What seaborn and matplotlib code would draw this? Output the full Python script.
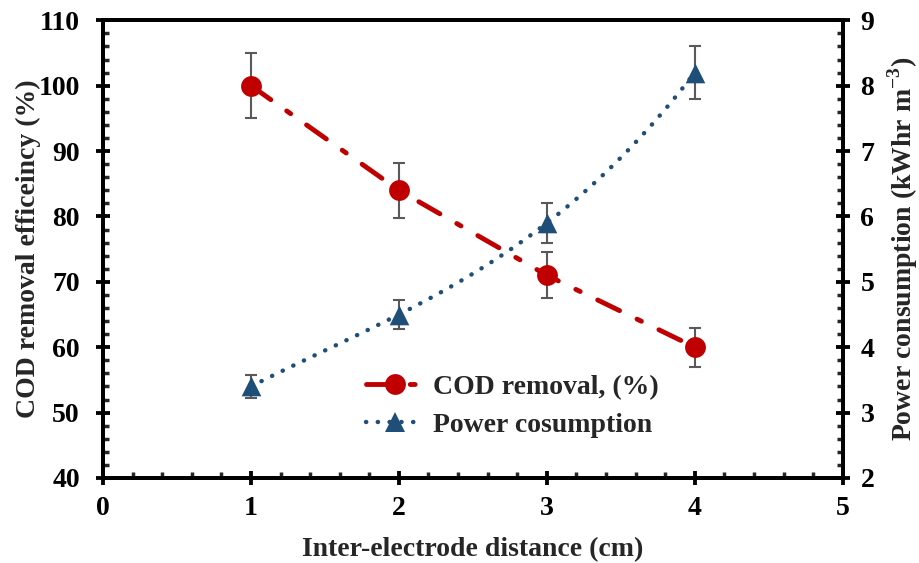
import matplotlib
matplotlib.use('Agg')
import matplotlib.pyplot as plt
from matplotlib.lines import Line2D
from matplotlib.ticker import MultipleLocator
import numpy as np
import pandas as pd
import seaborn as sns

# data
distance = [1, 2, 3, 4]
cod_removal = [100, 84, 71, 60]
cod_err = [5.0, 4.2, 3.5, 3.0]
power = [3.4, 4.5, 5.9, 8.2]
power_err = [0.17, 0.22, 0.3, 0.4]

sns.set_style('ticks')
plt.rcParams['font.family'] = ['Liberation Serif', 'DejaVu Serif']
plt.rcParams['font.weight'] = 'bold'
plt.rcParams['mathtext.fontset'] = 'custom'
plt.rcParams['mathtext.rm'] = 'Liberation Serif:bold'
plt.rcParams['mathtext.bf'] = 'Liberation Serif:bold'

red = '#C00000'
blue = '#1F4E79'
grey = '#595959'
fs = 20

df = pd.DataFrame({'d': distance, 'cod': cod_removal, 'power': power})

fig = plt.figure(figsize=(9.2, 5.63), dpi=100)
ax = fig.add_axes([0.112, 0.151, 0.804, 0.813])
ax2 = ax.twinx()

# COD removal (left axis)
ax.errorbar(distance, cod_removal, yerr=cod_err, fmt='none', ecolor=grey,
            elinewidth=1.5, capsize=4.3, capthick=1.5, zorder=2)
sns.lineplot(data=df, x='d', y='cod', ax=ax, color=red, lw=3.5,
             marker='o', markersize=15, markeredgewidth=0, zorder=3)
ax.lines[-1].set_dashes((5, 4, 1, 4))
ax.lines[-1].set_dash_capstyle('round')

# power consumption (right axis), smooth curve through the points
ax2.errorbar(distance, power, yerr=power_err, fmt='none', ecolor=grey,
             elinewidth=1.5, capsize=4.3, capthick=1.5, zorder=2)
sns.regplot(data=df, x='d', y='power', ax=ax2, order=3, ci=None, marker='^',
            scatter_kws=dict(s=200, color=blue, linewidths=0, alpha=1, zorder=3),
            line_kws=dict(color=blue, lw=3.2, dashes=(0.05, 2.6), dash_capstyle='round', zorder=3))

ax.set_xlim(0, 5)
ax.set_ylim(40, 110)
ax2.set_ylim(2, 9)
ax.xaxis.set_major_locator(MultipleLocator(1))
ax.xaxis.set_minor_locator(MultipleLocator(0.2))
ax.yaxis.set_major_locator(MultipleLocator(10))
ax.yaxis.set_minor_locator(MultipleLocator(2))
ax2.yaxis.set_major_locator(MultipleLocator(1))
ax2.yaxis.set_minor_locator(MultipleLocator(0.2))

for a in (ax, ax2):
    for s in a.spines.values():
        s.set_linewidth(2.75)
        s.set_color('black')
    a.tick_params(which='major', direction='inout', length=9.5, width=2.75,
                  labelsize=fs, colors='black', pad=8)
    a.tick_params(which='minor', direction='in', length=4.5, width=2.5)
ax.tick_params(axis='y', which='major', pad=12)
ax2.tick_params(axis='y', which='major', pad=8)
ax.tick_params(axis='x', which='both', top=False)
ax2.tick_params(axis='x', which='both', top=False, bottom=False)

ax.set_xlabel('Inter-electrode distance (cm)', fontsize=fs, fontweight='bold', labelpad=12)
ax.set_ylabel('COD removal efficeincy (%)', fontsize=fs, fontweight='bold', labelpad=-2)
ax2.set_xlabel('')
ax2.set_ylabel('Power consumption (kWhr m$^{-3}$)', fontsize=fs, fontweight='bold', labelpad=8)

handles = [
    Line2D([], [], color=red, lw=3.5, dashes=(5, 4, 1, 4), dash_capstyle='round',
           marker='o', markersize=15, markeredgewidth=0),
    Line2D([], [], color=blue, lw=3.2, dashes=(0.05, 2.6), dash_capstyle='round',
           marker='^', markersize=14, markeredgewidth=0),
]
ax2.legend(handles, ['COD removal, (%)', 'Power cosumption'], loc='center',
           bbox_to_anchor=(0.553, 0.157), frameon=False, fontsize=fs,
           handlelength=2.1, labelspacing=0.45, handletextpad=0.3)

fig.savefig('out.png', dpi=100)
